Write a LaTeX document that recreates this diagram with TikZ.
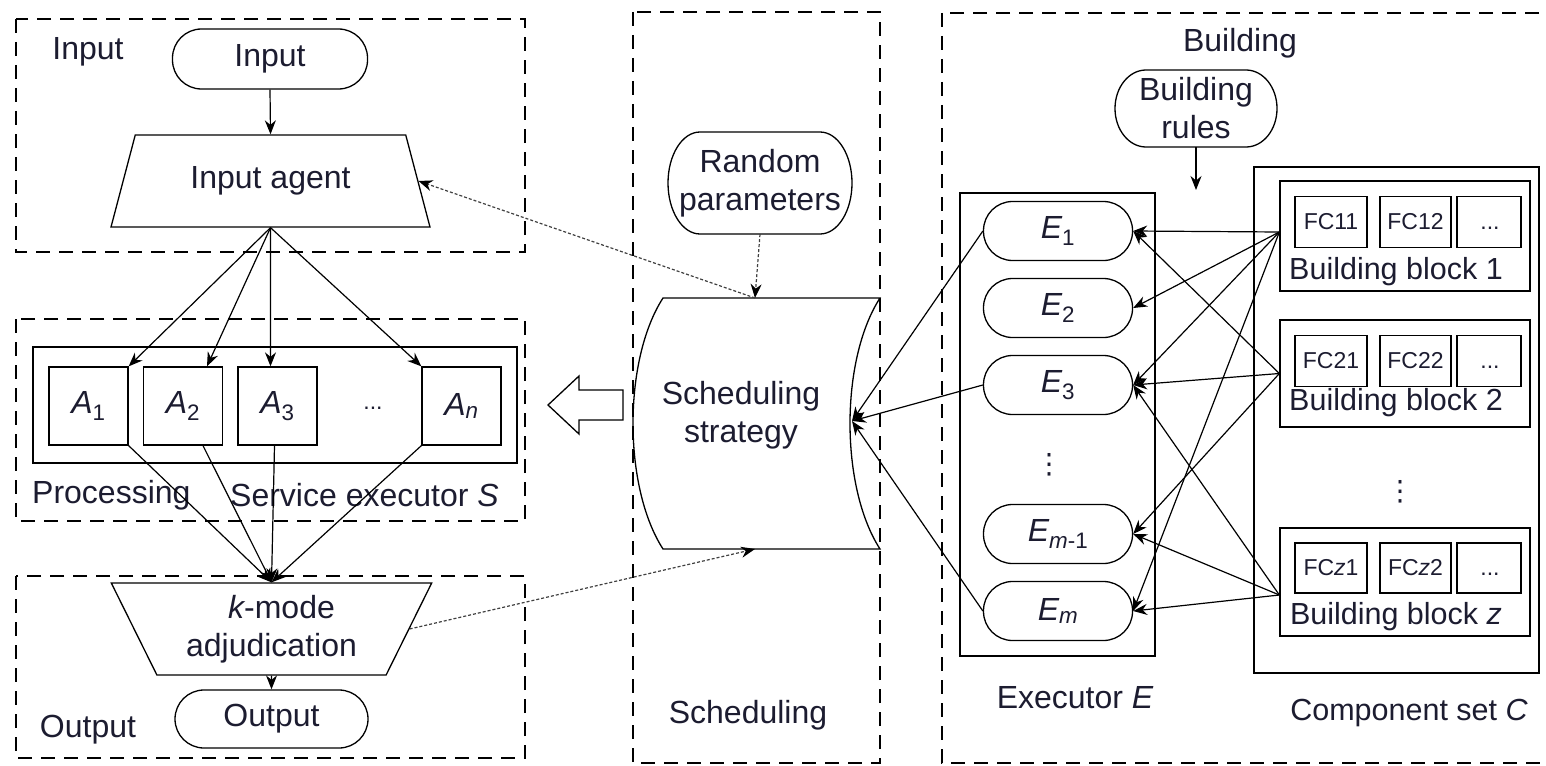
\documentclass[tikz,border=0pt]{standalone}
\usepackage{fontspec}
\setmainfont{Liberation Sans}
\newfontfamily\dejavu{DejaVu Sans}
\usetikzlibrary{arrows.meta,shapes.geometric,calc}
\definecolor{textc}{RGB}{28,28,48}
\begin{document}
\begin{tikzpicture}[x=1pt,y=-1pt,
  big/.style={font=\fontsize{32}{38}\selectfont},
  mid/.style={font=\fontsize{30.5}{36}\selectfont},
  small/.style={font=\fontsize{23}{27}\selectfont},
  txt/.style={big, inner sep=0pt, text=textc, align=center},
  grp/.style={draw=black, line width=1.5pt, dash pattern=on 14pt off 9pt},
  box/.style={draw=black, line width=1.3pt},
  stadium/.style={box, rounded corners=29pt, inner sep=0pt, big, text=textc, align=center},
  trap/.style={box, trapezium, trapezium stretches=true, trapezium left angle=63.4,
    trapezium right angle=63.4, inner sep=0pt, big, text=textc, align=center},
  abox/.style={box, minimum width=79pt, minimum height=78pt, inner sep=0pt, big, text=textc},
  fcbox/.style={box, minimum height=51pt, inner sep=0pt, small, text=textc},
  bbox/.style={box, minimum width=250pt, inner sep=0pt},
  ebox/.style={stadium, minimum width=149pt, minimum height=59pt},
  arr/.style={line width=1.2pt, -{Stealth[length=14pt,width=11pt]}},
  dotarr/.style={line width=1.2pt, draw=black!75, dash pattern=on 3pt off 2pt,
    -{Stealth[length=14pt,width=11pt,black]}},
  vd/.style={inner sep=0pt, text=textc, font=\dejavu\fontsize{28}{30}\selectfont}
]
\useasboundingbox (0,0) rectangle (1546,765);

% group frames
\draw[grp] (16,19) rectangle (525,252);
\draw[grp] (16,319) rectangle (525,521);
\draw[grp] (16,576) rectangle (525,758);
\draw[grp] (633,12) rectangle (880,763);
\draw[grp] (942,13) rectangle (1560,763);

% ---------- left column ----------
\node[txt] (lblin) at (88,52) {Input};
\node[stadium, minimum width=195pt, minimum height=60pt] (in) at (270,59) {Input};
\node[trap, minimum width=319pt, minimum height=92pt] (inagent) at (270.5,181) {Input agent};

\node[box, minimum width=484pt, minimum height=116pt, inner sep=0pt] (svc) at (275,405) {};
\node[abox] (A1) at (88.5,406) {{\itshape A}\textsubscript{1}};
\node[abox] (A2) at (183,406) {{\itshape A}\textsubscript{2}};
\node[abox] (A3) at (277.5,406) {{\itshape A}\textsubscript{3}};
\node[abox] (An) at (461.5,406) {{\itshape A}\textsubscript{\itshape n}};
\node[txt, small] (adots) at (373,408) {...};
\node[txt, anchor=west] (lblproc) at (32,495) {Processing};
\node[txt, anchor=west] (lblsvc) at (230,495) {Service executor {\itshape S}};

\node[trap, shape border rotate=180, minimum width=321pt, minimum height=92pt] (kmode) at (271.5,629) {\hspace*{20pt}{\itshape k}-mode\\adjudication};
\node[stadium, minimum width=193pt, minimum height=58pt] (out) at (271.5,719) {Output};
\node[txt] (lblout) at (88,730) {Output};

\draw[arr] (in.south) -- (inagent.north);
\draw[arr] (inagent.south) -- (A1.north east);
\draw[arr] (inagent.south) -- ([xshift=24pt]A2.north);
\draw[arr] (inagent.south) -- ([xshift=-7pt]A3.north);
\draw[arr] (inagent.south) -- (An.north west);
\draw[arr] (A1.south east) -- (kmode.north);
\draw[arr] ([xshift=20pt]A2.south) -- (kmode.north);
\draw[arr] ([xshift=-3pt]A3.south) -- (kmode.north);
\draw[arr] (An.south west) -- (kmode.north);
\draw[arr] (kmode.south) -- (out.north);

% ---------- scheduling ----------
\node[txt, minimum width=184pt, minimum height=102pt] (rp) at (760,183) {Random\\parameters};
\draw[box] (700,132) -- (820,132) .. controls (837.7,132) and (852,154.8) .. (852,183)
  .. controls (852,211.2) and (837.7,234) .. (820,234) -- (700,234)
  .. controls (682.3,234) and (668,211.2) .. (668,183)
  .. controls (668,154.8) and (682.3,132) .. (700,132) -- cycle;

\draw[box] (663,298) -- (880,298) .. controls (840,360) and (840,487) .. (880,549)
  -- (663,549) .. controls (623,487) and (623,360) .. (663,298) -- cycle;
\node[txt] (sched) at (741,415) {Scheduling\\strategy};
\coordinate (schedT) at (755,298);
\coordinate (schedB) at (755,549);
\coordinate (schedR) at (852,421);
\node[txt] (lblsched) at (748,715) {Scheduling};

\draw[box, fill=white] (623,390) -- (579,390) -- (579,376) -- (548,405) -- (579,434)
  -- (579,420) -- (623,420) -- cycle;

\draw[dotarr] (rp.south) -- (schedT);
\draw[dotarr] (schedT) -- (inagent.east);
\draw[dotarr] (kmode.east) -- (schedB);

% ---------- building ----------
\node[txt] (lblbuild) at (1240,43) {Building};
\node[txt, minimum width=162pt, minimum height=77pt] (br) at (1196,108.5) {Building\\rules};
\draw[box] (1146,70) -- (1246,70) .. controls (1263.1,70) and (1277,87.25) .. (1277,108.5)
  .. controls (1277,129.75) and (1263.1,147) .. (1246,147) -- (1146,147)
  .. controls (1128.9,147) and (1115,129.75) .. (1115,108.5)
  .. controls (1115,87.25) and (1128.9,70) .. (1146,70) -- cycle;
\coordinate (brend) at (1196,190);
\draw[arr] (br.south) -- (brend);

\node[box, minimum width=195pt, minimum height=463pt, inner sep=0pt] (exec) at (1057.5,424.5) {};
\node[ebox] (E1) at (1058,231) {{\itshape E}\textsubscript{1}};
\node[ebox] (E2) at (1058,308) {{\itshape E}\textsubscript{2}};
\node[ebox] (E3) at (1058,385) {{\itshape E}\textsubscript{3}};
\node[vd] (edots) at (1049,465) {⋮};
\node[ebox] (Em1) at (1058,534) {{\itshape E}\textsubscript{{\itshape m}-1}};
\node[ebox] (Em) at (1058,611) {{\itshape E}\textsubscript{\itshape m}};
\node[txt] (lblexec) at (1075,698) {Executor {\itshape E}};

\node[box, minimum width=285pt, minimum height=506pt, inner sep=0pt] (cset) at (1396.5,420) {};
\node[bbox, minimum height=110pt] (bb1) at (1405,236) {};
\node[fcbox, minimum width=72pt] (fc11) at (1331,222) {FC11};
\node[fcbox, minimum width=71pt] (fc12) at (1415.5,222) {FC12};
\node[fcbox, minimum width=64pt] (fc13) at (1489,222) {};
\node[txt, small] (fc13d) at (1490,228) {...};
\node[txt, mid] (lblbb1) at (1396,272) {Building block 1};

\node[bbox, minimum height=107pt] (bb2) at (1405,373.5) {};
\node[fcbox, minimum width=72pt] (fc21) at (1331,361) {FC21};
\node[fcbox, minimum width=71pt] (fc22) at (1415.5,361) {FC22};
\node[fcbox, minimum width=64pt] (fc23) at (1489,361) {};
\node[txt, small] (fc23d) at (1490,367) {...};
\node[txt, mid] (lblbb2) at (1396,403) {Building block 2};

\node[vd] (cdots) at (1400,492) {⋮};

\node[bbox, minimum height=108pt] (bbz) at (1405,582) {};
\node[fcbox, minimum width=72pt, minimum height=50pt] (fcz1) at (1331,568) {FC{\itshape z}1};
\node[fcbox, minimum width=71pt, minimum height=50pt] (fcz2) at (1415.5,568) {FC{\itshape z}2};
\node[fcbox, minimum width=64pt, minimum height=50pt] (fcz3) at (1489,568) {};
\node[txt, small] (fcz3d) at (1490,574) {...};
\node[txt, mid] (lblbbz) at (1396,617) {Building block {\itshape z}};
\node[txt, mid] (lblcset) at (1409,713) {Component set {\itshape C}};

\coordinate (bb1src) at ([yshift=4pt]bb1.west);
\coordinate (bb2src) at (bb2.west);
\coordinate (bbzsrc) at ([yshift=-13pt]bbz.west);

\draw[arr] (bb1src) -- (E1.east);
\draw[arr] (bb1src) -- (E2.east);
\draw[arr] (bb1src) -- (E3.east);
\draw[arr] (bb1src) -- (Em.east);
\draw[arr] (bb2src) -- (E1.east);
\draw[arr] (bb2src) -- (E3.east);
\draw[arr] (bb2src) -- (Em1.east);
\draw[arr] (bbzsrc) -- (E3.east);
\draw[arr] (bbzsrc) -- (Em1.east);
\draw[arr] (bbzsrc) -- (Em.east);

\draw[arr] (E1.west) -- (schedR);
\draw[arr] (E3.west) -- (schedR);
\draw[arr] (Em.west) -- (schedR);
\end{tikzpicture}
\end{document}
